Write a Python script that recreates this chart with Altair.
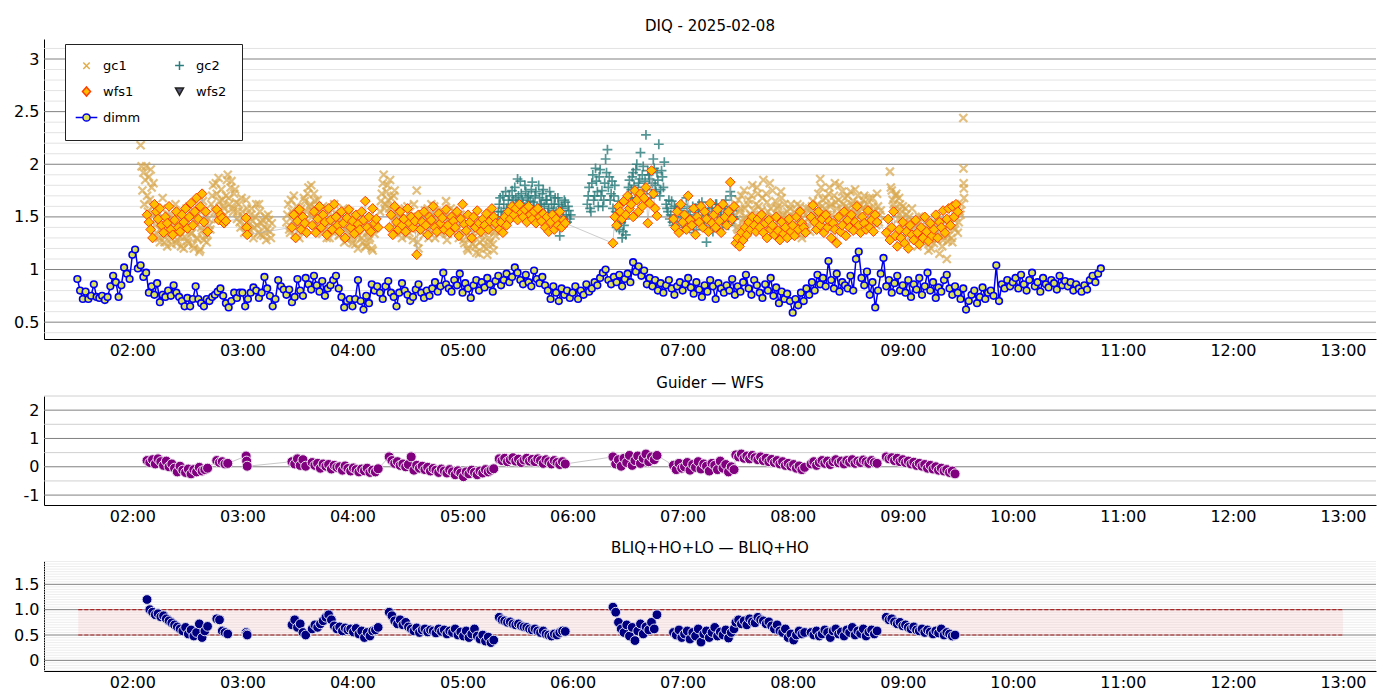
import altair as alt
import pandas as pd

# ---------------- data ----------------
dimm_start = "01:30"
dimm_step = 1.5  # minutes
dimm_values = [
    0.91, 0.80, 0.72, 0.79, 0.72, 0.75, 0.86, 0.74, 0.73, 0.75, 0.71, 0.74, 0.84, 0.94, 0.88, 0.74, 0.85, 1.02, 0.96, 0.91,
    1.14, 1.19, 1.01, 1.04, 0.93, 0.97, 0.78, 0.84, 0.76, 0.87, 0.69, 0.76, 0.74, 0.80, 0.75, 0.85, 0.78, 0.74, 0.70, 0.65,
    0.73, 0.65, 0.72, 0.84, 0.72, 0.68, 0.65, 0.72, 0.70, 0.74, 0.76, 0.79, 0.82, 0.75, 0.68, 0.64, 0.70, 0.78, 0.73, 0.78,
    0.78, 0.65, 0.72, 0.78, 0.83, 0.80, 0.73, 0.78, 0.93, 0.82, 0.75, 0.65, 0.72, 0.90, 0.84, 0.81, 0.76, 0.81, 0.69, 0.74,
    0.91, 0.80, 0.75, 0.92, 0.86, 0.81, 0.94, 0.85, 0.79, 0.89, 0.75, 0.82, 0.85, 0.90, 0.94, 0.82, 0.74, 0.64, 0.70, 0.72,
    0.65, 0.72, 0.90, 0.70, 0.62, 0.75, 0.68, 0.86, 0.80, 0.84, 0.78, 0.72, 0.84, 0.89, 0.78, 0.74, 0.65, 0.78, 0.87, 0.80,
    0.76, 0.70, 0.74, 0.81, 0.86, 0.78, 0.73, 0.80, 0.75, 0.82, 0.88, 0.79, 0.84, 0.97, 0.86, 0.82, 0.79, 0.90, 0.85, 0.96,
    0.78, 0.87, 0.82, 0.73, 0.85, 0.90, 0.80, 0.88, 0.83, 0.92, 0.86, 0.79, 0.89, 0.94, 0.85, 0.90, 0.96, 0.88, 0.93, 1.02,
    0.97, 0.90, 0.86, 0.95, 0.88, 0.84, 0.99, 0.91, 0.87, 0.93, 0.85, 0.80, 0.72, 0.84, 0.78, 0.70, 0.82, 0.76, 0.80, 0.73,
    0.78, 0.84, 0.72, 0.80, 0.76, 0.86, 0.79, 0.82, 0.88, 0.85, 0.92, 0.97, 1.00, 0.90, 0.86, 0.93, 0.88, 0.95, 0.84, 0.91,
    0.96, 0.88, 1.07, 0.98, 1.03, 0.94, 0.99, 0.86, 0.92, 0.84, 0.90, 0.80, 0.87, 0.78, 0.85, 0.90, 0.82, 0.76, 0.84, 0.88,
    0.80, 0.86, 0.92, 0.83, 0.77, 0.88, 0.81, 0.74, 0.85, 0.79, 0.90, 0.84, 0.72, 0.87, 0.82, 0.78, 0.85, 0.80, 0.91, 0.76,
    0.84, 0.79, 0.88, 0.95, 0.82, 0.76, 0.90, 0.85, 0.78, 0.73, 0.86, 0.80, 0.92, 0.75, 0.83, 0.68, 0.79, 0.72, 0.77, 0.70,
    0.59, 0.72, 0.66, 0.78, 0.70, 0.82, 0.76, 0.88, 0.80, 0.95, 0.86, 0.92, 0.84, 1.08, 0.90, 0.82, 0.96, 0.79, 0.88, 0.85,
    0.82, 0.94, 0.80, 1.10, 1.17, 0.92, 0.85, 0.98, 0.76, 0.88, 0.64, 0.80, 0.96, 1.11, 0.84, 0.90, 0.78, 0.87, 0.94, 0.80,
    0.85, 0.78, 0.90, 0.74, 0.86, 0.81, 0.92, 0.76, 0.84, 0.97, 0.80, 0.88, 0.73, 0.83, 0.79, 0.90, 0.95, 0.82, 0.76, 0.84,
    0.78, 0.72, 0.82, 0.62, 0.70, 0.76, 0.80, 0.68, 0.74, 0.83, 0.72, 0.78, 0.80, 0.75, 1.04, 0.70, 0.86, 0.82, 0.90, 0.84,
    0.88, 0.92, 0.82, 0.95, 0.86, 0.80, 0.90, 0.97, 0.84, 0.88, 0.79, 0.92, 0.86, 0.83, 0.90, 0.87, 0.81, 0.94, 0.85, 0.89,
    0.84, 0.88, 0.80, 0.86, 0.82, 0.79, 0.85, 0.81, 0.90, 0.94, 0.88, 0.96, 1.01,
]

# (start time, step in minutes, values)
gc1_segments = [
    ("02:04.5", 0.5, [2.18, 1.98, 1.75, 1.92, 1.62, 1.85, 1.98, 1.70, 1.55, 1.88, 1.66, 1.95, 1.78, 1.60, 1.82, 1.52]),
    ("02:12.5", 1, [1.42, 1.55, 1.30, 1.38, 1.68, 1.26, 1.45, 1.33, 1.50, 1.24, 1.40, 1.62, 1.28, 1.36, 1.22, 1.47,
                    1.31, 1.58, 1.25, 1.43, 1.35, 1.20, 1.52, 1.29, 1.17, 1.40, 1.65, 1.32, 1.26, 1.48, 1.38]),
    ("02:13", 1, [1.35, 1.48, 1.26, 1.58, 1.32, 1.40, 1.22, 1.52, 1.29, 1.44, 1.36, 1.25, 1.55, 1.31, 1.46, 1.20,
                  1.38, 1.27, 1.60, 1.34, 1.23, 1.45, 1.30, 1.52, 1.19, 1.37, 1.28, 1.50, 1.33, 1.42]),
    ("02:43", 1, [1.62, 1.80, 1.55, 1.72, 1.87, 1.50, 1.66, 1.58, 1.70, 1.90, 1.62, 1.84, 1.55, 1.76,
                  1.48, 1.62, 1.40, 1.55, 1.35, 1.66, 1.45, 1.38, 1.58, 1.30, 1.50, 1.42, 1.62, 1.33, 1.47, 1.40,
                  1.28, 1.52, 1.36, 1.44]),
    ("02:43.5", 1, [1.70, 1.58, 1.82, 1.48, 1.65, 1.76, 1.60, 1.52, 1.85, 1.68, 1.78, 1.58, 1.72, 1.64, 1.55, 1.45,
                    1.68, 1.50, 1.42, 1.58, 1.36, 1.52, 1.46, 1.40, 1.62, 1.35, 1.55, 1.44, 1.32, 1.50, 1.38, 1.47,
                    1.30]),
    ("03:24", 1, [1.45, 1.62, 1.35, 1.55, 1.70, 1.40, 1.50, 1.30, 1.58, 1.44, 1.65,
                  1.55, 1.78, 1.62, 1.50, 1.72, 1.58, 1.66,
                  1.48, 1.38, 1.60, 1.42, 1.30, 1.55, 1.45, 1.36, 1.62, 1.40, 1.50, 1.33, 1.46, 1.58, 1.38, 1.28,
                  1.52, 1.42, 1.25, 1.45, 1.35, 1.20, 1.40, 1.30, 1.48, 1.22, 1.36, 1.28, 1.42, 1.18, 1.34]),
    ("03:24.5", 1, [1.52, 1.38, 1.66, 1.46, 1.33, 1.60, 1.42, 1.55, 1.36, 1.68, 1.48, 1.72, 1.60, 1.80, 1.55, 1.65,
                    1.52, 1.42, 1.55, 1.34, 1.50, 1.40, 1.58, 1.30, 1.47, 1.38, 1.54, 1.44, 1.32, 1.50, 1.41, 1.26,
                    1.48, 1.36, 1.55, 1.30, 1.44, 1.24, 1.38, 1.32, 1.46, 1.26, 1.40, 1.22, 1.35, 1.30, 1.20, 1.38]),
    ("04:15", 1, [1.55, 1.72, 1.90, 1.62, 1.80, 1.58, 1.68, 1.52, 1.75,
                  1.45, 1.38, 1.55, 1.30, 1.48, 1.42, 1.60, 1.35, 1.50, 1.28, 1.44, 1.75, 1.20, 1.40, 1.52, 1.33,
                  1.46, 1.58, 1.38, 1.62, 1.42, 1.30, 1.55, 1.45, 1.36, 1.50, 1.40, 1.65, 1.34, 1.48, 1.42, 1.56,
                  1.38, 1.45, 1.30, 1.52]),
    ("04:15.5", 1, [1.65, 1.82, 1.58, 1.74, 1.66, 1.85, 1.60, 1.70, 1.50, 1.40, 1.52, 1.35, 1.46, 1.58, 1.32, 1.44,
                    1.55, 1.38, 1.62, 1.48, 1.26, 1.50, 1.36, 1.45, 1.56, 1.40, 1.30, 1.52, 1.44, 1.60, 1.38, 1.48,
                    1.34, 1.55, 1.42, 1.50, 1.28, 1.46, 1.58, 1.36, 1.44, 1.52, 1.40, 1.48]),
    ("05:00", 1, [1.35, 1.25, 1.45, 1.18, 1.38, 1.30, 1.50, 1.22, 1.40, 1.15, 1.33, 1.28, 1.45, 1.20, 1.36, 1.26,
                  1.42, 1.18, 1.32]),
    ("05:00.5", 1, [1.28, 1.40, 1.20, 1.48, 1.32, 1.24, 1.42, 1.16, 1.35, 1.26, 1.45, 1.22, 1.38, 1.14, 1.30, 1.40,
                    1.24, 1.36]),
    ("07:28", 1, [1.45, 1.62, 1.38, 1.55, 1.70, 1.48, 1.58, 1.35, 1.66, 1.52, 1.80, 1.45, 1.62, 1.72, 1.40, 1.56,
                  1.85, 1.50, 1.64, 1.42, 1.58, 1.75, 1.48, 1.38, 1.60, 1.52, 1.68, 1.44, 1.35, 1.55, 1.47, 1.62]),
    ("07:28.5", 1, [1.52, 1.40, 1.66, 1.58, 1.45, 1.75, 1.50, 1.62, 1.42, 1.70, 1.56, 1.48, 1.78, 1.60, 1.52, 1.68,
                    1.44, 1.72, 1.55, 1.82, 1.50, 1.40, 1.65, 1.58, 1.46, 1.74, 1.52, 1.62, 1.42, 1.50, 1.58]),
    ("08:00", 1, [1.42, 1.55, 1.35, 1.48, 1.60, 1.30, 1.45, 1.52, 1.38, 1.58, 1.44, 1.65, 1.50]),
    ("08:00.5", 1, [1.50, 1.38, 1.62, 1.45, 1.33, 1.55, 1.40, 1.58, 1.48, 1.36, 1.60, 1.52]),
    ("08:13", 1, [1.55, 1.72, 1.86, 1.60, 1.48, 1.68, 1.52, 1.78, 1.62, 1.45, 1.82, 1.58, 1.66, 1.50, 1.74, 1.42,
                  1.60, 1.70, 1.55, 1.48, 1.65, 1.76, 1.52, 1.44, 1.62, 1.58, 1.70, 1.46, 1.55, 1.68, 1.40, 1.60,
                  1.50, 1.72, 1.45, 1.56]),
    ("08:13.5", 1, [1.62, 1.50, 1.78, 1.66, 1.58, 1.45, 1.72, 1.60, 1.52, 1.70, 1.64, 1.48, 1.80, 1.56, 1.62, 1.68,
                    1.50, 1.58, 1.74, 1.62, 1.46, 1.55, 1.70, 1.60, 1.52, 1.66, 1.44, 1.62, 1.58, 1.50, 1.68, 1.55,
                    1.42, 1.60, 1.52]),
    ("08:53", 1, [1.93, 1.75, 1.62, 1.70, 1.55, 1.68, 1.48, 1.60, 1.40, 1.52, 1.35, 1.45, 1.58, 1.30, 1.42, 1.22,
                  1.50, 1.38, 1.28, 1.45, 1.33, 1.18, 1.40, 1.30, 1.25, 1.48, 1.35, 1.15, 1.42, 1.28, 1.38, 1.10,
                  1.32, 1.45, 1.26, 1.40, 1.50, 1.35, 1.55, 1.62]),
    ("08:53.5", 1, [1.78, 1.66, 1.58, 1.72, 1.48, 1.62, 1.55, 1.44, 1.58, 1.40, 1.50, 1.32, 1.46, 1.38, 1.28, 1.44,
                    1.34, 1.50, 1.25, 1.38, 1.42, 1.30, 1.20, 1.36, 1.45, 1.28, 1.40, 1.32, 1.22, 1.46, 1.35, 1.27,
                    1.42, 1.30, 1.48, 1.38, 1.56, 1.45, 1.52]),
    ("09:33", 0.1, [2.44, 1.96, 1.82, 1.77, 1.68]),
]

gc2_segments = [
    ("05:19", 1, [1.48, 1.62, 1.55, 1.70, 1.45, 1.58, 1.66, 1.52, 1.75, 1.60, 1.68, 1.86, 1.58, 1.72, 1.63, 1.80,
                  1.55, 1.70, 1.65, 1.83, 1.60, 1.74, 1.56, 1.68, 1.62, 1.76, 1.52, 1.66, 1.58, 1.70, 1.48, 1.62,
                  1.55, 1.68, 1.32, 1.60, 1.50, 1.64, 1.45, 1.56, 1.52]),
    ("05:19.5", 1, [1.55, 1.68, 1.50, 1.62, 1.74, 1.56, 1.70, 1.60, 1.66, 1.78, 1.62, 1.70, 1.84, 1.66, 1.58, 1.74,
                    1.68, 1.60, 1.76, 1.64, 1.70, 1.58, 1.80, 1.62, 1.72, 1.60, 1.66, 1.54, 1.74, 1.62, 1.56, 1.68,
                    1.50, 1.62, 1.46, 1.58, 1.66, 1.52, 1.60, 1.48]),
    ("06:08", 1, [1.62, 1.78, 1.55, 1.90, 1.70, 1.84, 1.60, 1.95, 1.75, 1.66, 2.05, 2.14, 1.88, 1.72, 1.58, 1.80,
                  1.40, 1.65, 1.48, 1.30, 1.42, 1.33]),
    ("06:08.5", 1, [1.70, 1.58, 1.82, 1.66, 1.96, 1.74, 1.88, 1.70, 1.60, 1.82, 1.92, 1.78, 1.66, 1.84, 1.70, 1.55,
                    1.50, 1.38, 1.45, 1.36, 1.48]),
    ("06:30", 1, [1.70, 1.85, 1.76, 1.92, 1.68, 2.00, 1.82, 2.11, 1.90, 1.78, 2.28, 1.94, 1.86, 1.72, 2.05, 1.80,
                  1.92, 2.19, 1.76, 1.88, 2.02]),
    ("06:30.5", 1, [1.78, 1.68, 1.88, 1.80, 1.95, 1.74, 1.86, 1.70, 1.98, 1.84, 1.76, 1.90, 1.68, 1.82, 1.96, 1.74,
                    1.85, 1.70, 1.94, 1.78]),
    ("06:51", 1, [1.62, 1.55, 1.48, 1.65, 1.42, 1.58, 1.50, 1.38, 1.60, 1.45, 1.52, 1.68, 1.40, 1.55, 1.47, 1.35,
                  1.58, 1.50, 1.62, 1.42, 1.55, 1.48, 1.26, 1.52, 1.40, 1.58, 1.45, 1.62, 1.50, 1.38, 1.55, 1.46,
                  1.60, 1.52, 1.42, 1.74, 1.56, 1.48]),
    ("06:51.5", 1, [1.58, 1.66, 1.52, 1.45, 1.60, 1.50, 1.42, 1.56, 1.62, 1.48, 1.40, 1.58, 1.52, 1.44, 1.60, 1.50,
                    1.38, 1.56, 1.46, 1.64, 1.42, 1.52, 1.48, 1.58, 1.44, 1.36, 1.55, 1.62, 1.46, 1.52, 1.40, 1.58,
                    1.66, 1.48, 1.55, 1.70, 1.50]),
]

wfs1_segments = [
    ("02:08", 1, [1.52, 1.45, 1.38, 1.30, 1.62, 1.55, 1.48, 1.58, 1.42, 1.35, 1.50, 1.44, 1.60, 1.38, 1.33, 1.47,
                  1.55, 1.40, 1.36, 1.52, 1.45, 1.58, 1.39, 1.50, 1.63, 1.42, 1.55, 1.68, 1.48, 1.60, 1.72, 1.45,
                  1.55, 1.36]),
    ("02:46", 1, [1.57, 1.47, 1.52, 1.49, 1.44, 1.46]),
    ("03:02", 0.3, [1.49, 1.40, 1.33]),
    ("03:27", 1, [1.40, 1.52, 1.30, 1.46, 1.57, 1.38, 1.50, 1.44, 1.35]),
    ("03:38", 1, [1.42, 1.55, 1.35, 1.48, 1.60, 1.40, 1.52, 1.45, 1.33, 1.58, 1.47, 1.38, 1.62, 1.50, 1.42, 1.36,
                  1.55, 1.44, 1.30, 1.49, 1.57, 1.40, 1.46, 1.34, 1.52, 1.43, 1.38, 1.55, 1.47, 1.65, 1.40, 1.50,
                  1.36, 1.58, 1.44, 1.48, 1.40]),
    ("04:20", 1, [1.40, 1.52, 1.33, 1.60, 1.45, 1.38, 1.55, 1.42, 1.48, 1.36, 1.58, 1.44, 1.50, 1.40, 1.46, 1.14,
                  1.52, 1.38, 1.45, 1.55, 1.42, 1.33, 1.50, 1.47, 1.60, 1.40, 1.36, 1.53, 1.44, 1.49, 1.38, 1.57,
                  1.42, 1.35, 1.50, 1.46, 1.40, 1.55, 1.32, 1.48, 1.62, 1.43, 1.37, 1.52, 1.45, 1.30, 1.50, 1.40,
                  1.56, 1.44, 1.36, 1.48, 1.42, 1.53, 1.38, 1.46, 1.58, 1.50, 1.44]),
    ("05:20", 1, [1.38, 1.45, 1.35, 1.50, 1.42, 1.55, 1.48, 1.60, 1.52, 1.58, 1.47, 1.62, 1.54, 1.50, 1.57, 1.45,
                  1.60, 1.52, 1.48, 1.55, 1.44, 1.58, 1.50, 1.46, 1.53, 1.40, 1.50, 1.36, 1.45, 1.52, 1.38, 1.48,
                  1.42, 1.55, 1.40, 1.47, 1.44]),
    ("06:22", 1, [1.25, 1.50, 1.42, 1.60, 1.55, 1.48, 1.65, 1.52, 1.70, 1.58, 1.62, 1.50, 1.75, 1.66, 1.55, 1.72,
                  1.60, 1.68, 1.78, 1.44, 1.63, 1.94, 1.72, 1.58, 1.51]),
    ("06:55", 1, [1.48, 1.40, 1.55, 1.35, 1.62, 1.45, 1.52, 1.38, 1.70, 1.47, 1.42, 1.58, 1.33, 1.50, 1.45, 1.60,
                  1.40, 1.55, 1.48, 1.36, 1.63, 1.44, 1.52, 1.40, 1.57, 1.46, 1.35, 1.62, 1.50, 1.42, 1.55, 1.83,
                  1.48, 1.60]),
    ("07:29", 1, [1.25, 1.30, 1.22, 1.35, 1.28, 1.40, 1.33, 1.45, 1.38, 1.50, 1.42, 1.36, 1.48, 1.40, 1.52, 1.35,
                  1.44, 1.30, 1.47, 1.38, 1.42, 1.33, 1.50, 1.37, 1.28, 1.45, 1.34, 1.40, 1.30, 1.48, 1.36, 1.42,
                  1.32, 1.50, 1.38, 1.55, 1.44, 1.40, 1.35]),
    ("08:10", 1, [1.50, 1.61, 1.45, 1.38, 1.55, 1.42, 1.48, 1.35, 1.52, 1.40, 1.46, 1.30, 1.44, 1.38, 1.25, 1.50,
                  1.36, 1.42, 1.55, 1.32, 1.47, 1.40, 1.52, 1.37, 1.45, 1.60, 1.42, 1.35, 1.50, 1.44, 1.38, 1.56,
                  1.40, 1.47, 1.36, 1.52, 1.45]),
    ("08:51", 1, [1.35, 1.48, 1.28, 1.40, 1.55, 1.32, 1.22, 1.38, 1.30, 1.45, 1.25, 1.36, 1.20, 1.42, 1.33, 1.28,
                  1.47, 1.35, 1.24, 1.40, 1.30, 1.50, 1.36, 1.27, 1.44, 1.32, 1.38, 1.52, 1.30, 1.45, 1.40, 1.56,
                  1.35, 1.48, 1.58, 1.42, 1.60, 1.50, 1.62, 1.55]),
]

guider_wfs_segments = [
    ("02:08", 1.5, [0.22, 0.15, 0.25, 0.10, 0.28, 0.18, 0.05, 0.20, 0.00, 0.10, -0.05, -0.18, 0.02, -0.12, -0.20,
                    -0.08, -0.25, -0.10, -0.18, -0.02, -0.15, -0.10, -0.05]),
    ("02:46", 1.5, [0.22, 0.15, 0.18, 0.10, 0.12]),
    ("03:02", 0.3, [0.38, 0.20, 0.02]),
    ("03:27", 1.5, [0.18, 0.10, 0.28, 0.05, 0.25, 0.02]),
    ("03:38", 1.5, [0.15, 0.05, 0.12, -0.05, 0.10, 0.02, 0.08, -0.08, 0.05, -0.02, 0.00, -0.12, 0.03, -0.06, -0.15,
                    -0.04, -0.10, -0.18, -0.08, -0.14, -0.05, -0.20, -0.12, -0.18, -0.07]),
    ("04:20", 1.5, [0.35, 0.22, 0.12, 0.18, 0.05, 0.10, 0.00, 0.08, 0.35, -0.12, 0.05, -0.05, 0.02, -0.10, -0.02,
                    -0.15, -0.06, -0.12, -0.20, -0.08, -0.15, -0.22, -0.10, -0.18, -0.28, -0.14, -0.22, -0.35,
                    -0.18, -0.25, -0.12, -0.20, -0.28, -0.15, -0.22, -0.10, -0.18, -0.12, -0.07]),
    ("05:20", 1.5, [0.28, 0.22, 0.30, 0.18, 0.25, 0.32, 0.20, 0.27, 0.15, 0.24, 0.30, 0.20, 0.26, 0.18, 0.28, 0.22,
                    0.12, 0.25, 0.18, 0.10, 0.22, 0.15, 0.08, 0.18, 0.10]),
    ("06:22", 1.5, [0.35, 0.10, 0.25, 0.02, 0.30, 0.15, 0.40, 0.05, 0.22, 0.38, 0.12, 0.30, 0.45, 0.18, 0.35, 0.25,
                    0.40]),
    ("06:55", 1.5, [0.05, -0.10, 0.12, -0.05, 0.00, 0.15, -0.12, 0.08, -0.02, 0.18, -0.08, 0.10, 0.02, -0.15, 0.12,
                    0.05, -0.10, 0.20, -0.05, 0.08, -0.18, 0.00, -0.10]),
    ("07:29", 1.5, [0.42, 0.35, 0.45, 0.30, 0.38, 0.28, 0.40, 0.32, 0.25, 0.35, 0.22, 0.30, 0.18, 0.26, 0.15, 0.22,
                    0.10, 0.18, 0.05, 0.12, 0.02, 0.08, -0.05, 0.03, -0.10, -0.02]),
    ("08:10", 1.5, [0.10, 0.18, 0.05, 0.15, 0.22, 0.12, 0.20, 0.08, 0.18, 0.25, 0.14, 0.20, 0.10, 0.22, 0.16, 0.25,
                    0.12, 0.20, 0.15, 0.24, 0.18, 0.12, 0.22, 0.15, 0.12]),
    ("08:51", 1.5, [0.35, 0.28, 0.32, 0.22, 0.30, 0.18, 0.25, 0.15, 0.20, 0.10, 0.16, 0.05, 0.12, 0.02, 0.08, -0.05,
                    0.05, -0.08, 0.00, -0.12, -0.05, -0.15, -0.10, -0.20, -0.15, -0.25]),
]

bliq_segments = [
    ("02:08", 1.5, [1.20, 1.00, 0.95, 0.90, 0.92, 0.86, 0.88, 0.82, 0.78, 0.74, 0.70, 0.66, 0.62, 0.58, 0.65, 0.52,
                    0.60, 0.48, 0.55, 0.72, 0.45, 0.58, 0.67]),
    ("02:46", 1.5, [0.82, 0.80, 0.58, 0.55, 0.52]),
    ("03:02", 0.3, [0.55, 0.52, 0.50]),
    ("03:27", 1.5, [0.70, 0.80, 0.65, 0.72, 0.55, 0.50]),
    ("03:38", 1.5, [0.62, 0.70, 0.65, 0.72, 0.78, 0.85, 0.90, 0.80, 0.68, 0.62, 0.66, 0.58, 0.64, 0.60, 0.62, 0.56,
                    0.63, 0.52, 0.58, 0.45, 0.55, 0.48, 0.58, 0.60, 0.65]),
    ("04:20", 1.5, [0.95, 0.88, 0.78, 0.72, 0.80, 0.70, 0.75, 0.66, 0.62, 0.58, 0.64, 0.55, 0.60, 0.62, 0.56, 0.60,
                    0.58, 0.54, 0.62, 0.57, 0.60, 0.52, 0.58, 0.55, 0.62, 0.50, 0.56, 0.48, 0.58, 0.45, 0.52, 0.62,
                    0.48, 0.42, 0.50, 0.38, 0.46, 0.35, 0.40]),
    ("05:20", 1.5, [0.85, 0.80, 0.78, 0.75, 0.76, 0.72, 0.70, 0.72, 0.68, 0.66, 0.65, 0.62, 0.60, 0.62, 0.58, 0.55,
                    0.58, 0.52, 0.50, 0.48, 0.52, 0.50, 0.55, 0.58, 0.57]),
    ("06:22", 1.5, [1.05, 0.95, 0.75, 0.62, 0.55, 0.70, 0.48, 0.65, 0.39, 0.58, 0.72, 0.52, 0.66, 0.60, 0.75, 0.62,
                    0.90]),
    ("06:55", 1.5, [0.55, 0.50, 0.60, 0.45, 0.52, 0.58, 0.42, 0.55, 0.48, 0.62, 0.36, 0.52, 0.58, 0.45, 0.55, 0.65,
                    0.48, 0.56, 0.50, 0.60, 0.44, 0.55, 0.62]),
    ("07:29", 1.5, [0.75, 0.80, 0.72, 0.78, 0.70, 0.82, 0.76, 0.74, 0.85, 0.80, 0.78, 0.72, 0.76, 0.68, 0.62, 0.70,
                    0.58, 0.55, 0.62, 0.45, 0.52, 0.40, 0.50, 0.58, 0.52, 0.55]),
    ("08:10", 1.5, [0.55, 0.50, 0.58, 0.48, 0.52, 0.60, 0.55, 0.45, 0.58, 0.62, 0.52, 0.56, 0.48, 0.60, 0.55, 0.65,
                    0.50, 0.58, 0.53, 0.62, 0.48, 0.56, 0.60, 0.52, 0.58]),
    ("08:51", 1.5, [0.85, 0.80, 0.82, 0.76, 0.72, 0.75, 0.68, 0.70, 0.65, 0.62, 0.66, 0.60, 0.58, 0.62, 0.55, 0.60,
                    0.56, 0.52, 0.58, 0.54, 0.62, 0.50, 0.55, 0.52, 0.48, 0.50]),
]

band_times = ["01:30.5", "13:00"]
band_levels = [0.5, 1.0]

# legend entries, listed column by column (col 1: gc1, wfs1, dimm; col 2: gc2, wfs2)
series_names = ["gc1", "wfs1", "dimm", "gc2", "wfs2"]
hour_ticks = [2, 3, 4, 5, 6, 7, 8, 9, 10, 11, 12, 13]
top_major = [0.5, 1.0, 1.5, 2.0, 2.5, 3.0]
mid_major = [-1, 0, 1, 2]
mid_minor = [-0.5, 0.5, 1.5, 2.5]
bot_major = [0.0, 0.5, 1.0, 1.5]

# ---------------- helpers ----------------
FONT = "DejaVu Sans"
X_DOMAIN = [1.197, 13.30]


def hm(s):
    h, m = s.split(":")
    return int(h) + float(m) / 60.0


def expand(segs):
    rows = []
    for start, step, vals in segs:
        t0 = hm(start)
        for i, v in enumerate(vals):
            rows.append({"t": t0 + i * step / 60.0, "v": v})
    return pd.DataFrame(rows)


dimm_df = pd.DataFrame({"t": [hm(dimm_start) + i * dimm_step / 60.0 for i in range(len(dimm_values))],
                        "v": dimm_values})
gc1_df = expand(gc1_segments)
gc2_df = expand(gc2_segments)
wfs1_df = expand(wfs1_segments)
mid_df = expand(guider_wfs_segments)
bot_df = expand(bliq_segments)

top_minor = [round(0.4 + 0.1 * i, 2) for i in range(28) if round((0.4 + 0.1 * i) * 10) % 5 != 0]
bot_minor = [round(-0.2 + 0.05 * i, 3) for i in range(44) if round((-0.2 + 0.05 * i) * 100) % 50 != 0]


def xenc():
    return alt.X("t:Q", scale=alt.Scale(domain=X_DOMAIN, nice=False, zero=False),
                 axis=alt.Axis(values=hour_ticks,
                               labelExpr="(datum.value < 10 ? '0' : '') + datum.value + ':00'",
                               grid=False, ticks=False, tickSize=0, labelPadding=3,
                               domainColor="black", domainWidth=1, labelFontSize=16, labelFont=FONT,
                               labelColor="black", labelFlush=False, title=None))


def yenc(domain, values, expr):
    return alt.Y("v:Q", scale=alt.Scale(domain=domain, nice=False, zero=False),
                 axis=alt.Axis(values=values, labelExpr=expr, grid=False, ticks=False, tickSize=0,
                               labelPadding=5, domainColor="black", domainWidth=1, labelFontSize=16,
                               labelFont=FONT, labelColor="black", minExtent=31, maxExtent=31, title=None))


def grid(vals, color, width, Y):
    return alt.Chart(pd.DataFrame({"v": vals})).mark_rule(color=color, strokeWidth=width).encode(y=Y)


def title(text):
    return alt.TitleParams(text, fontSize=15, font=FONT, fontWeight="normal", color="black", offset=5,
                           anchor="middle")


XPATH = "M-1,-1L1,1M-1,1L1,-1"
PLUSPATH = "M-1,0L1,0M0,-1L0,1"

# ---------------- top panel ----------------
Yt = yenc([0.34, 3.19], top_major, "'' + datum.value")
Xt = xenc()

gc1_pts = alt.Chart(gc1_df).mark_point(shape=XPATH, size=64, filled=False, stroke="#d9a84e",
                                       strokeWidth=2.2, opacity=0.72).encode(x=Xt, y=Yt)
gc2_pts = alt.Chart(gc2_df).mark_point(shape=PLUSPATH, size=96, filled=False, stroke="#2a7b7b",
                                       strokeWidth=1.7, opacity=0.8).encode(x=Xt, y=Yt)
wfs1_line = alt.Chart(wfs1_df).mark_line(color="#b0b0b0", strokeWidth=0.8, opacity=0.8).encode(x=Xt, y=Yt)
wfs1_pts = alt.Chart(wfs1_df).mark_point(shape="diamond", size=95, filled=True, fill="#ffbf00",
                                         stroke="#ff3c00", strokeWidth=1, opacity=1).encode(x=Xt, y=Yt)
dimm_line = alt.Chart(dimm_df).mark_line(color="#0000ee", strokeWidth=1.5).encode(x=Xt, y=Yt)
dimm_pts = alt.Chart(dimm_df).mark_point(shape="circle", size=44, filled=True, fill="#dde356",
                                         stroke="#0000ee", strokeWidth=1.6, opacity=1).encode(x=Xt, y=Yt)

leg_shapes = [
    "M-0.8,-0.8L0.8,0.8M-0.8,0.8L0.8,-0.8",
    "M0,-1.15L1,0L0,1.15L-1,0Z",
    "M-0.9,0A0.9,0.9,0,1,1,0.9,0A0.9,0.9,0,1,1,-0.9,0ZM-2.7,0L-0.9,0M0.9,0L2.7,0",
    "M-1.1,0L1.1,0M0,-1.1L0,1.1",
    "M-1,-0.9L1,-0.9L0,0.9Z",
]
leg_fills = ["#e3ad4a", "#ffbf00", "#dde356", "#2a7b7b", "#5a5a78"]
leg_strokes = ["#e3ad4a", "#ff3c00", "#0000ee", "#2a7b7b", "#222222"]
legend = alt.Legend(title=None, orient="none", legendX=21, legendY=5, columns=2, columnPadding=31,
                    rowPadding=10, padding=15, labelOffset=10, labelFontSize=13, labelFont=FONT,
                    labelColor="black", symbolSize=64, symbolStrokeWidth=1.5, strokeColor="#222222",
                    fillColor="white", cornerRadius=0)
leg_df = pd.DataFrame({"series": series_names, "t": [0.5] * 5, "v": [1.0] * 5})
dummy = alt.Chart(leg_df).mark_point(filled=True, opacity=1, clip=True).encode(
    x=Xt, y=Yt,
    shape=alt.Shape("series:N", scale=alt.Scale(domain=series_names, range=leg_shapes), legend=legend),
    fill=alt.Fill("series:N", scale=alt.Scale(domain=series_names, range=leg_fills), legend=legend),
    stroke=alt.Stroke("series:N", scale=alt.Scale(domain=series_names, range=leg_strokes), legend=legend),
)

top = alt.layer(
    grid(top_minor, "#dcdcdc", 0.8, Yt),
    grid(top_major, "#808080", 1, Yt),
    gc1_pts, gc2_pts, wfs1_line, wfs1_pts, dimm_line, dimm_pts, dummy,
).properties(width=1332, height=300, title=title("DIQ - 2025-02-08"))

# ---------------- middle panel ----------------
Ym = yenc([-1.35, 2.5], mid_major, "datum.value < 0 ? '-' + (-datum.value) : '' + datum.value")
Xm = xenc()
mid = alt.layer(
    grid(mid_minor, "#c4c4c4", 0.8, Ym),
    grid(mid_major, "#808080", 1, Ym),
    alt.Chart(mid_df).mark_line(color="#c8c8c8", strokeWidth=1).encode(x=Xm, y=Ym),
    alt.Chart(mid_df).mark_circle(size=100, fill="#800080", stroke="#efe4ef", strokeWidth=1,
                                  opacity=1).encode(x=Xm, y=Ym),
).properties(width=1332, height=109, title=title("Guider — WFS"))

# ---------------- bottom panel ----------------
Yb = yenc([-0.21, 1.96], bot_major, "datum.value == 0 ? '0' : format(datum.value, '.1f')")
Xb = xenc()
band_df = pd.DataFrame({"t": [hm(band_times[0])], "t2": [hm(band_times[1])],
                        "v": [band_levels[0]], "v2": [band_levels[1]]})
lvl_df = pd.DataFrame({"t": [hm(band_times[0])] * 2, "t2": [hm(band_times[1])] * 2, "v": band_levels})
bot = alt.layer(
    grid(bot_minor, "#e8e8e8", 0.8, Yb),
    grid(bot_major, "#808080", 1, Yb),
    alt.Chart(band_df).mark_rect(color="#f5b5b5", opacity=0.22).encode(x=Xb, x2="t2:Q", y=Yb, y2="v2:Q"),
    alt.Chart(lvl_df).mark_rule(color="#b22222", strokeWidth=1.2, strokeDash=[4, 2]).encode(
        x=Xb, x2="t2:Q", y=Yb),
    alt.Chart(bot_df).mark_circle(size=95, fill="#000080", stroke="#dcdcf0", strokeWidth=1,
                                  opacity=1).encode(x=Xb, y=Yb),
).properties(width=1332, height=110, title=title("BLIQ+HO+LO — BLIQ+HO"))

chart = alt.vconcat(top, mid, bot, spacing=17).properties(
    background="white", padding={"top": 11, "left": 5, "right": 5, "bottom": 0}
).configure_view(stroke=None)
chart.save("out.html", embed_options={"renderer": "svg", "actions": False})
